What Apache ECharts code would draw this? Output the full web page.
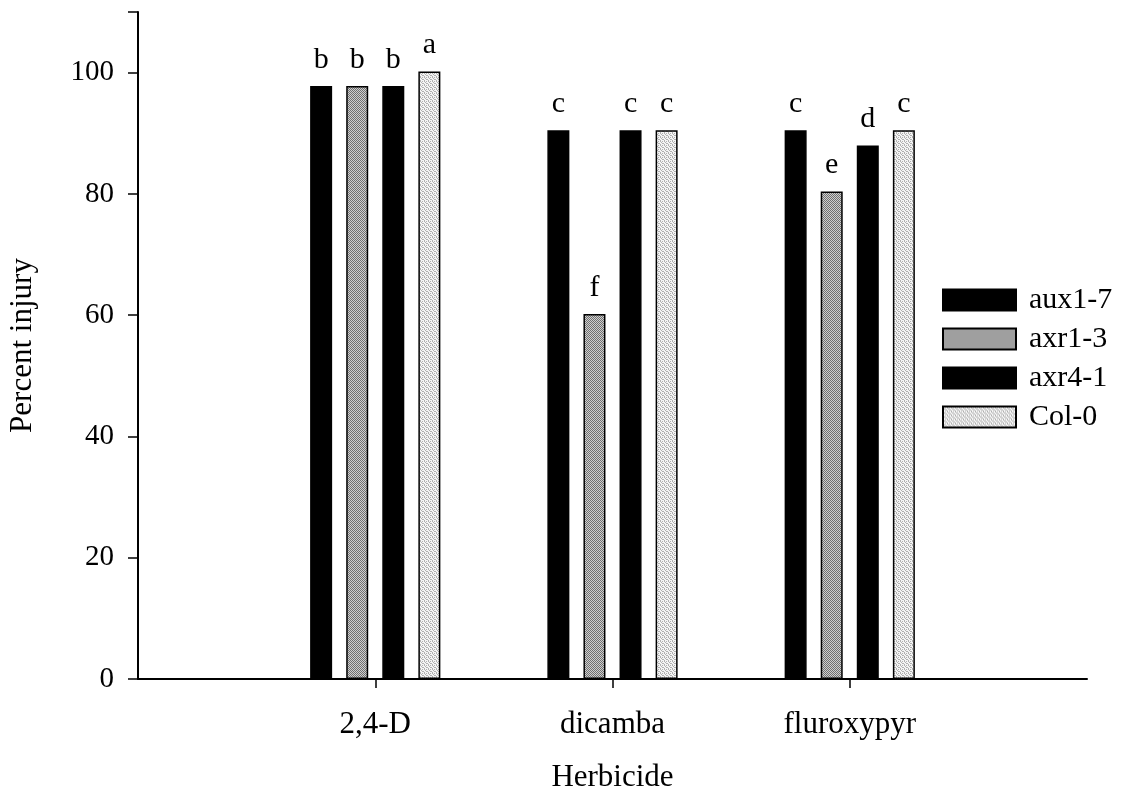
<!DOCTYPE html>
<html>
<head>
<meta charset="utf-8">
<script src="https://cdn.jsdelivr.net/npm/echarts@6/dist/echarts.min.js"></script>
<style>
  html, body { margin: 0; padding: 0; background: #fff; }
  #chart { width: 1127px; height: 797px; }
</style>
</head>
<body>
<div id="chart"></div>
<script>
// Herbicide categories (blank slots at both ends pad the axis)
const categories = ['', '2,4-D', 'dicamba', 'fluroxypyr', ''];
const seriesNames = ['aux1-7', 'axr1-3', 'axr4-1', 'Col-0'];

// Percent injury per genotype, one value per herbicide
const aux17 = [null, 97.8, 90.5, 90.5, null];
const axr13 = [null, 97.8, 60.2, 80.4, null];
const axr41 = [null, 97.8, 90.5, 88.0, null];
const col0  = [null, 100.2, 90.5, 90.5, null];

// Mean-separation letters printed above each bar
const letAux17 = ['', 'b', 'c', 'c', ''];
const letAxr13 = ['', 'b', 'f', 'e', ''];
const letAxr41 = ['', 'b', 'c', 'd', ''];
const letCol0  = ['', 'a', 'c', 'c', ''];

const yTicks = [0, 20, 40, 60, 80, 100];

// Ordered-dither stipple tiles for the grey fills
function checkerFill(dark, light) {
  const c = document.createElement('canvas');
  c.width = 2; c.height = 2;
  const g = c.getContext('2d');
  g.fillStyle = light; g.fillRect(0, 0, 2, 2);
  g.fillStyle = dark; g.fillRect(0, 0, 1, 1); g.fillRect(1, 1, 1, 1);
  return { image: c, repeat: 'repeat' };
}
function sparseFill(dot, light) {
  const c = document.createElement('canvas');
  c.width = 4; c.height = 4;
  const g = c.getContext('2d');
  g.fillStyle = light; g.fillRect(0, 0, 4, 4);
  g.fillStyle = dot;
  g.fillRect(0, 0, 1, 1); g.fillRect(2, 1, 1, 1);
  g.fillRect(1, 2, 1, 1); g.fillRect(3, 3, 1, 1);
  g.fillRect(2, 3, 1, 1); g.fillRect(0, 1, 1, 1);
  return { image: c, repeat: 'repeat' };
}
const fillAxr13 = checkerFill('#707070', '#cfcfcf');
const fillCol0 = sparseFill('#b0b0b0', '#f4f4f4');

const FONT = 'Liberation Serif';
const chart = echarts.init(document.getElementById('chart'), null, { renderer: 'canvas' });

function barSeries(name, data, letters, fill) {
  return {
    name: name,
    type: 'bar',
    data: data,
    barWidth: 22,
    barGap: '64%',
    itemStyle: { color: fill, borderColor: '#000', borderWidth: 1.5 },
    label: {
      show: true,
      position: 'top',
      distance: 11,
      fontFamily: FONT,
      fontSize: 30,
      color: '#000',
      formatter: p => letters[p.dataIndex]
    },
    emphasis: { disabled: true }
  };
}

chart.setOption({
  animation: false,
  backgroundColor: '#fff',
  grid: { left: 138, right: 40, top: 12, bottom: 118, containLabel: false, outerBoundsMode: 'none' },
  legend: {
    orient: 'vertical',
    left: 942,
    top: 285,
    padding: 0,
    itemWidth: 73,
    itemHeight: 21,
    itemGap: 9,
    icon: 'rect',
    data: seriesNames,
    textStyle: { fontFamily: FONT, fontSize: 30, color: '#000', padding: [0, 0, 0, 8] }
  },
  xAxis: {
    type: 'category',
    data: categories,
    boundaryGap: false,
    name: 'Herbicide',
    nameLocation: 'middle',
    nameGap: 83,
    nameTextStyle: { fontFamily: FONT, fontSize: 31, color: '#000' },
    axisLine: { lineStyle: { color: '#000', width: 2 } },
    axisTick: {
      show: true,
      length: 9,
      lineStyle: { color: '#000', width: 1.5 },
      interval: (i) => i >= 1 && i <= 3
    },
    axisLabel: {
      fontFamily: FONT,
      fontSize: 31,
      color: '#000',
      margin: 30,
      interval: 0
    },
    splitLine: { show: false }
  },
  yAxis: {
    type: 'value',
    min: 0,
    max: 110,
    interval: 20,
    name: 'Percent injury',
    nameLocation: 'middle',
    nameGap: 100,
    nameTextStyle: { fontFamily: FONT, fontSize: 31, color: '#000' },
    axisLine: { show: true, lineStyle: { color: '#000', width: 2 } },
    axisTick: { show: true, length: 10, lineStyle: { color: '#000', width: 1.5 } },
    axisLabel: {
      fontFamily: FONT,
      fontSize: 29,
      color: '#000',
      margin: 24,
      formatter: v => (yTicks.indexOf(v) >= 0 ? String(v) : '')
    },
    splitLine: { show: false }
  },
  series: [
    barSeries(seriesNames[0], aux17, letAux17, '#000'),
    barSeries(seriesNames[1], axr13, letAxr13, fillAxr13),
    barSeries(seriesNames[2], axr41, letAxr41, '#000'),
    barSeries(seriesNames[3], col0, letCol0, fillCol0)
  ]
});
</script>
</body>
</html>
